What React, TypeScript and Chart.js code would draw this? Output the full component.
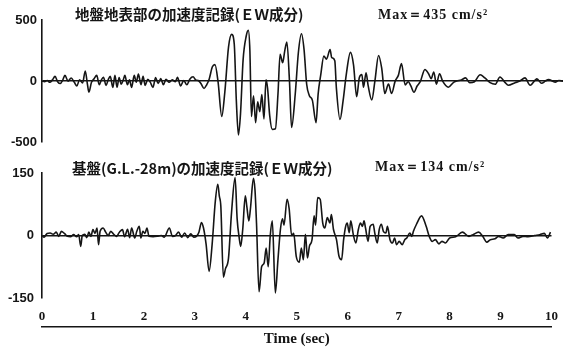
import React, { useEffect, useRef } from 'react';
import { Chart, registerables } from 'chart.js';

Chart.register(...registerables);

// ---- Data ----
const surfaceTime = [
  0.00, 0.05, 0.10, 0.15, 0.20, 0.25, 0.30, 0.35, 0.40, 0.44,
  0.50, 0.56, 0.62, 0.67, 0.72, 0.78, 0.83, 0.87, 0.90, 0.95,
  1.00, 1.05, 1.10, 1.14, 1.18, 1.23, 1.27, 1.31, 1.36, 1.40,
  1.44, 1.48, 1.52, 1.56, 1.59, 1.64, 1.68, 1.72, 1.77, 1.81,
  1.85, 1.90, 1.94, 1.98, 2.03, 2.08, 2.13, 2.18, 2.23, 2.28,
  2.33, 2.38, 2.44, 2.50, 2.56, 2.60, 2.66, 2.72, 2.78, 2.84,
  2.90, 2.95, 3.00, 3.05, 3.11,
  3.16, 3.21, 3.27, 3.32, 3.38, 3.45, 3.51, 3.58, 3.64, 3.69,
  3.73, 3.77, 3.81, 3.86, 3.92, 3.96, 3.99, 4.02, 4.06, 4.10,
  4.14, 4.18, 4.22, 4.26, 4.30, 4.33, 4.37, 4.42, 4.48, 4.53,
  4.57, 4.62, 4.66, 4.70, 4.75, 4.79, 4.86, 4.92, 4.98, 5.03,
  5.08, 5.13, 5.19, 5.26, 5.30, 5.35, 5.41, 5.46, 5.53, 5.56,
  5.62, 5.65, 5.72, 5.78, 5.84, 5.92, 5.98, 6.04, 6.09, 6.14,
  6.17, 6.22, 6.26, 6.33, 6.39, 6.46, 6.52, 6.58, 6.65, 6.71,
  6.78, 6.84, 6.90, 6.97, 7.03, 7.08, 7.14, 7.20, 7.26, 7.35,
  7.42, 7.47, 7.52, 7.57, 7.63, 7.69, 7.80, 7.90, 7.96, 8.05,
  8.13, 8.21, 8.30, 8.41, 8.50, 8.60, 8.70, 8.79, 8.89, 8.95,
  9.08, 9.17, 9.27, 9.37, 9.50, 9.59, 9.66, 9.72, 9.85, 9.92,
  10.0,
];
const surfaceAccel = [
  0, -5, 5, -10, 10, 39, -5, -20, 10, 47,
  0, 25, -10, -39, 10, -15, 83, -20, -91, -10,
  20, 47, -30, 10, 31, -35, 10, 39, -52, 47,
  -50, 30, -25, 10, 47, -30, 10, -52, 47, -10,
  57, -30, 40, -35, 15, -10, -52, 30, -20, 20,
  -30, 15, -10, 10, -5, 31, -40, 5, -30, 18,
  35, 10, 5, -20, -60,
  -30, 18, 117, 135, -8, -290, -86, 278, 382, 304,
  -160, -440, -268, 174, 369, 415, 250, -290, -120, -340,
  -170, -250, -110, -310, 10, -60, -280, -395, -390, -100,
  220, 150, 250, 320, 0, -380, -110, 230, 387, 257,
  -26, -117, -158, -340, -106, 50, 206, 180, 258, 193,
  167, -55, -314, -158, 53, 235, 131, -128, 28, 54,
  -50, 67, -37, -154, 2, 210, 106, -102, -24, -102,
  2, 47, 143, -31, -5, -40, -91, -40, -5, 95,
  60, 20, 75, -25, 60, 0, -50, -10, 0, 10,
  26, -13, -5, 52, 26, -13, -26, 34, -13, -34,
  -13, 0, 26, -34, 18, -18, 0, 13, -8, 5,
  0,
];

const baseTime = [
  0.00, 0.04, 0.10, 0.16, 0.22, 0.28, 0.33, 0.38, 0.44, 0.50,
  0.56, 0.62, 0.68, 0.72, 0.76, 0.79, 0.84, 0.88, 0.92, 0.96,
  1.00, 1.04, 1.08, 1.11, 1.14, 1.20, 1.25, 1.30, 1.35, 1.40,
  1.46, 1.52, 1.58, 1.62, 1.68, 1.72, 1.76, 1.82, 1.86, 1.91,
  1.94, 1.98, 2.02, 2.06, 2.10, 2.18, 2.26, 2.34, 2.40, 2.50,
  2.56, 2.62, 2.68, 2.74, 2.80, 2.86, 2.92, 2.98, 3.03, 3.08,
  3.13, 3.17, 3.22, 3.28, 3.34, 3.40, 3.45, 3.48, 3.51, 3.56,
  3.60, 3.66, 3.72, 3.79, 3.83, 3.87, 3.90, 3.94, 3.99, 4.02,
  4.06, 4.09, 4.15, 4.18, 4.21, 4.26, 4.31, 4.36, 4.40, 4.44,
  4.48, 4.52, 4.58, 4.63, 4.68, 4.72, 4.75, 4.81, 4.85, 4.90,
  4.94, 4.99, 5.05, 5.09, 5.13, 5.17, 5.21, 5.25, 5.30, 5.34,
  5.37, 5.41, 5.46, 5.51, 5.55, 5.60, 5.65, 5.68, 5.72, 5.78,
  5.83, 5.88, 5.92, 5.96, 5.99, 6.03, 6.06, 6.11, 6.16, 6.21,
  6.25, 6.29, 6.32, 6.35, 6.40, 6.44, 6.50, 6.53, 6.58, 6.62,
  6.66, 6.70, 6.75, 6.78, 6.83, 6.88, 6.92, 6.96, 7.01, 7.07,
  7.12, 7.16, 7.22, 7.26, 7.29, 7.35, 7.45, 7.54, 7.60, 7.66,
  7.72, 7.79, 7.85, 7.92, 8.00, 8.12, 8.25, 8.38, 8.46, 8.57,
  8.65, 8.73, 8.80, 8.89, 8.96, 9.05, 9.15, 9.27, 9.34, 9.44,
  9.54, 9.67, 9.77, 9.86, 9.92, 9.98,
];
const baseAccel = [
  0, -4, 5, 6, 3, 8, -2, 10, 5, -2,
  -3, 2, -3, 2, -26, 0, 3, -5, 8, -2,
  14, 5, 18, -22, 10, 18, 8, 0, 10, 4,
  -2, 8, 14, -3, 15, -5, 18, -6, 10, 22,
  -6, 10, 5, 18, -2, -3, -2, 0, -4, 18,
  -2, 0, 8, -4, 6, -5, 4, -4, -2, 8,
  31, 18, -20, -86, -20, 80, 123, 95, 70, -100,
  -80, -55, 55, 139, 40, -5, -26, 15, 95, 70,
  35, 63, 137, 110, 30, -135, -75, -66, -30, -75,
  0, 35, -138, -60, 15, 40, 25, 87, 65, 0,
  5, -50, -64, -30, -58, 3, -54, -25, -10, 47,
  25, 91, 87, 30, 18, 43, 30, 50, 15, -10,
  -50, -58, -10, 22, 30, 7, 35, 2, -18, 15,
  30, 22, 35, 18, -14, 22, 27, 7, -18, 15,
  27, 10, 6, 22, -10, -18, -6, -22, -14, -22,
  -10, -6, 6, -2, 10, 27, 47, 22, -2, -14,
  -10, -20, -14, -18, -6, -3, 8, -2, 2, 8,
  -2, -16, -10, -8, -2, -6, 2, 2, -6, -2,
  -3, 0, 2, 5, -6, 8,
];

const timeTicks = [0, 1, 2, 3, 4, 5, 6, 7, 8, 9, 10];
const surfaceTicks = [-500, 0, 500];
const baseTicks = [-150, 0, 150];

const surfaceTitle = '地盤地表部の加速度記録(ＥＷ成分)';
const surfaceMax = 'Max＝435 cm/s²';
const baseTitle = '基盤(G.L.-28m)の加速度記録(ＥＷ成分)';
const baseMax = 'Max＝134 cm/s²';
const xTitle = 'Time (sec)';

// ---- Styles ----
const INK = '#151515';
const CJK_FONT = 'bold 14.5px "Noto Sans CJK JP", sans-serif';
const MAX_FONT = 'bold 14px "Liberation Serif", serif';
const yTickFont = { family: '"Liberation Sans", Arial, sans-serif', size: 13, weight: 'bold' as const };
const xTickFont = { family: '"Liberation Serif", serif', size: 13, weight: 'bold' as const };

function textPlugin(items: { text: string; x: number; y: number; font: string; spacing?: string }[]) {
  return {
    id: 'panelText',
    afterDraw(chart: any) {
      const ctx = chart.ctx as any;
      ctx.save();
      ctx.fillStyle = INK;
      ctx.textBaseline = 'middle';
      ctx.textAlign = 'left';
      for (const it of items) {
        ctx.font = it.font;
        ctx.letterSpacing = it.spacing || '0px';
        ctx.fillText(it.text, it.x, it.y);
      }
      ctx.restore();
    },
  };
}

const zeroGrid = {
  drawTicks: false,
  color: (c: any) => (c.tick && c.tick.value === 0 ? INK : 'rgba(0,0,0,0)'),
  lineWidth: 1.6,
};

function traceDataset(times: number[], values: number[]) {
  return {
    data: times.map((t, i) => ({ x: t, y: values[i] })),
    borderColor: INK,
    borderWidth: 1.6,
    pointRadius: 0,
    fill: false,
    cubicInterpolationMode: 'monotone' as const,
  };
}

export default function App() {
  const topRef = useRef<HTMLCanvasElement | null>(null);
  const botRef = useRef<HTMLCanvasElement | null>(null);

  useEffect(() => {
    const top = new Chart(topRef.current as HTMLCanvasElement, {
      type: 'line',
      data: { datasets: [traceDataset(surfaceTime, surfaceAccel) as any] },
      options: {
        animation: false,
        responsive: false,
        events: [],
        layout: { padding: { top: 20, bottom: 8, left: 0, right: 6 } },
        plugins: { legend: { display: false }, tooltip: { enabled: false } },
        scales: {
          x: { type: 'linear', min: 0, max: 10, display: false },
          y: {
            type: 'linear',
            min: -500,
            max: 500,
            afterBuildTicks: (a: any) => {
              a.ticks = surfaceTicks.map((v) => ({ value: v }));
            },
            afterFit: (a: any) => {
              a.width = 42;
            },
            ticks: { font: yTickFont, color: INK, padding: 5 },
            grid: zeroGrid as any,
            border: { display: true, color: INK, width: 1.6 },
          },
        },
      },
      plugins: [
        textPlugin([
          { text: surfaceTitle, x: 75, y: 14, font: CJK_FONT },
          { text: surfaceMax, x: 378, y: 15, font: MAX_FONT, spacing: '1px' },
        ]) as any,
      ],
    });

    const bot = new Chart(botRef.current as HTMLCanvasElement, {
      type: 'line',
      data: { datasets: [traceDataset(baseTime, baseAccel) as any] },
      options: {
        animation: false,
        responsive: false,
        events: [],
        layout: { padding: { top: 23, bottom: 0, left: 0, right: 6 } },
        plugins: { legend: { display: false }, tooltip: { enabled: false } },
        scales: {
          x: {
            type: 'linear',
            position: 'bottom',
            weight: 0,
            min: 0,
            max: 10,
            afterBuildTicks: (a: any) => {
              a.ticks = timeTicks.map((v) => ({ value: v }));
            },
            afterFit: (a: any) => {
              a.height = 29;
            },
            ticks: { font: xTickFont, color: INK, padding: 11, maxRotation: 0 },
            grid: { display: false, drawTicks: false },
            border: { display: false },
          },
          x2: {
            type: 'linear',
            axis: 'x',
            position: 'bottom',
            weight: 1,
            min: 0,
            max: 10,
            afterFit: (a: any) => {
              a.height = 22;
            },
            ticks: { display: false },
            grid: { display: false, drawTicks: false },
            border: { display: true, color: INK, width: 1.6 },
            title: {
              display: true,
              text: xTitle,
              color: INK,
              font: { family: '"Liberation Serif", serif', size: 15, weight: 'bold' },
              padding: { top: 0, bottom: 1 },
            },
          },
          y: {
            type: 'linear',
            min: -150,
            max: 150,
            afterBuildTicks: (a: any) => {
              a.ticks = baseTicks.map((v) => ({ value: v }));
            },
            afterFit: (a: any) => {
              a.width = 42;
            },
            ticks: { font: yTickFont, color: INK, padding: 8 },
            grid: zeroGrid as any,
            border: { display: true, color: INK, width: 1.6 },
          },
        } as any,
      },
      plugins: [
        textPlugin([
          { text: baseTitle, x: 72, y: 18, font: CJK_FONT },
          { text: baseMax, x: 375, y: 17, font: MAX_FONT, spacing: '1px' },
        ]) as any,
      ],
    });

    return () => {
      top.destroy();
      bot.destroy();
    };
  }, []);

  return (
    <div style={{ position: 'fixed', left: 0, top: 0, width: 569, height: 349, background: '#fff', overflow: 'hidden' }}>
      <canvas ref={topRef} width={569} height={155} style={{ position: 'absolute', left: 0, top: 0 }} />
      <canvas ref={botRef} width={569} height={199} style={{ position: 'absolute', left: 0, top: 150 }} />
    </div>
  );
}
